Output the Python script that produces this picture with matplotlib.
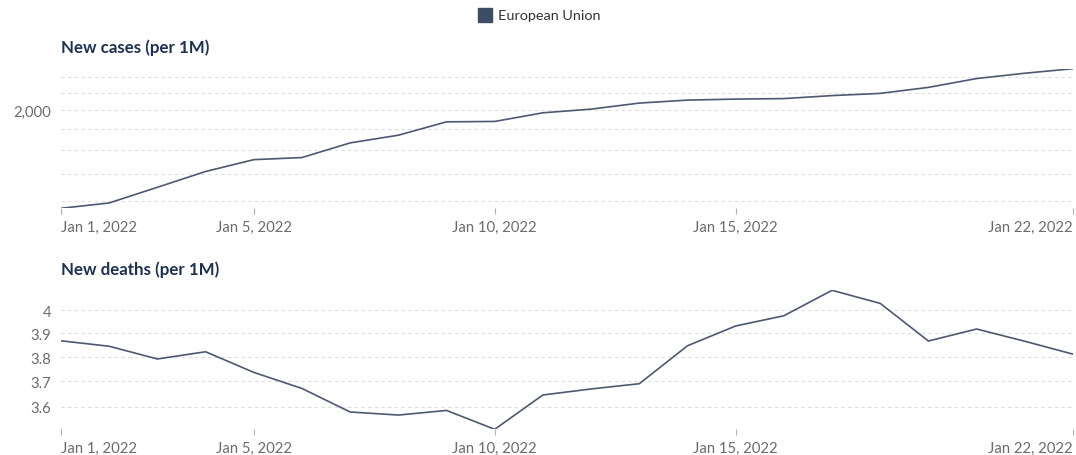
import matplotlib
matplotlib.use("Agg")
import matplotlib.pyplot as plt
import matplotlib.ticker as mticker
import pandas as pd

dates = pd.date_range("2022-01-01", "2022-01-22", freq="D")
cases = [1155, 1190, 1299, 1419, 1516, 1534, 1665, 1738, 1873, 1877, 1970,
         2011, 2080, 2115, 2127, 2133, 2169, 2196, 2271, 2386, 2458, 2521]
deaths = [3.868, 3.845, 3.792, 3.822, 3.737, 3.672, 3.579, 3.567, 3.585, 3.512,
          3.646, 3.670, 3.691, 3.847, 3.931, 3.975, 4.087, 4.029, 3.867, 3.918,
          3.866, 3.812]
series_name = "European Union"
titles = ["New cases (per 1M)", "New deaths (per 1M)"]
tick_dates = pd.to_datetime(["2022-01-01", "2022-01-05", "2022-01-10",
                             "2022-01-15", "2022-01-22"])
tick_labels = ["Jan 1, 2022", "Jan 5, 2022", "Jan 10, 2022", "Jan 15, 2022",
               "Jan 22, 2022"]
cases_grid = [1200, 1400, 1600, 1800, 2000, 2200, 2400]
cases_labels = {2000: "2,000"}
deaths_grid = [3.6, 3.7, 3.8, 3.9, 4.0]
deaths_labels = {3.6: "3.6", 3.7: "3.7", 3.8: "3.8", 3.9: "3.9", 4.0: "4"}

plt.rcParams["font.family"] = ["Lato", "DejaVu Sans"]

W, H = 1076, 456
fig = plt.figure(figsize=(W / 100, H / 100), dpi=100)
line_color = "#4d5970"
title_color = "#1f3150"
label_color = "#6b6b6b"
grid_color = "#dddddd"


def px_axes(x0, x1, y0, y1):
    return fig.add_axes([x0 / W, 1 - y1 / H, (x1 - x0) / W, (y1 - y0) / H])


panels = [
    (px_axes(61, 1073, 69.7, 209.3), cases, cases_grid, cases_labels, 48),
    (px_axes(61, 1073, 291.3, 430.3), deaths, deaths_grid, deaths_labels, 270),
]

for i, (ax, vals, grid, labels, ty) in enumerate(panels):
    ax.plot(dates, vals, color=line_color, lw=1.2, solid_joinstyle="miter", zorder=3)
    ax.set_yscale("log")
    ax.set_ylim(min(vals), max(vals))
    ax.set_xlim(dates[0], dates[-1])
    for s in ax.spines.values():
        s.set_visible(False)
    ax.set_facecolor("none")
    ax.yaxis.set_major_locator(mticker.FixedLocator(grid))
    ax.yaxis.set_minor_locator(mticker.NullLocator())
    ax.yaxis.set_major_formatter(
        mticker.FuncFormatter(lambda v, p, lab=labels: next((t for k, t in lab.items() if abs(k - v) < 1e-6), "")))
    ax.tick_params(axis="y", length=0, pad=7, labelsize=10.7, labelcolor=label_color)
    ax.grid(axis="y", color=grid_color, lw=0.8, ls=(0, (3, 3)), zorder=0)
    ax.set_xticks(tick_dates)
    ax.set_xticklabels(tick_labels)
    ax.tick_params(axis="x", length=4, width=0.8, color="#b0b0b0", pad=4,
                   labelsize=10.7, labelcolor=label_color)
    xl = ax.get_xticklabels()
    xl[0].set_ha("left")
    xl[-1].set_ha("right")
    fig.text(61 / W, 1 - ty / H, titles[i], ha="left", va="center",
             fontsize=12.2, fontweight="bold", color=title_color)

# legend
fig.patches.append(plt.Rectangle((478 / W, 1 - 22.7 / H), 14 / W, 13.5 / H,
                                 transform=fig.transFigure, color="#3d4d66"))
fig.text(498 / W, 1 - 16 / H, series_name, ha="left", va="center",
         fontsize=10.4, color="#333333")

fig.savefig("out.png", dpi=100)
